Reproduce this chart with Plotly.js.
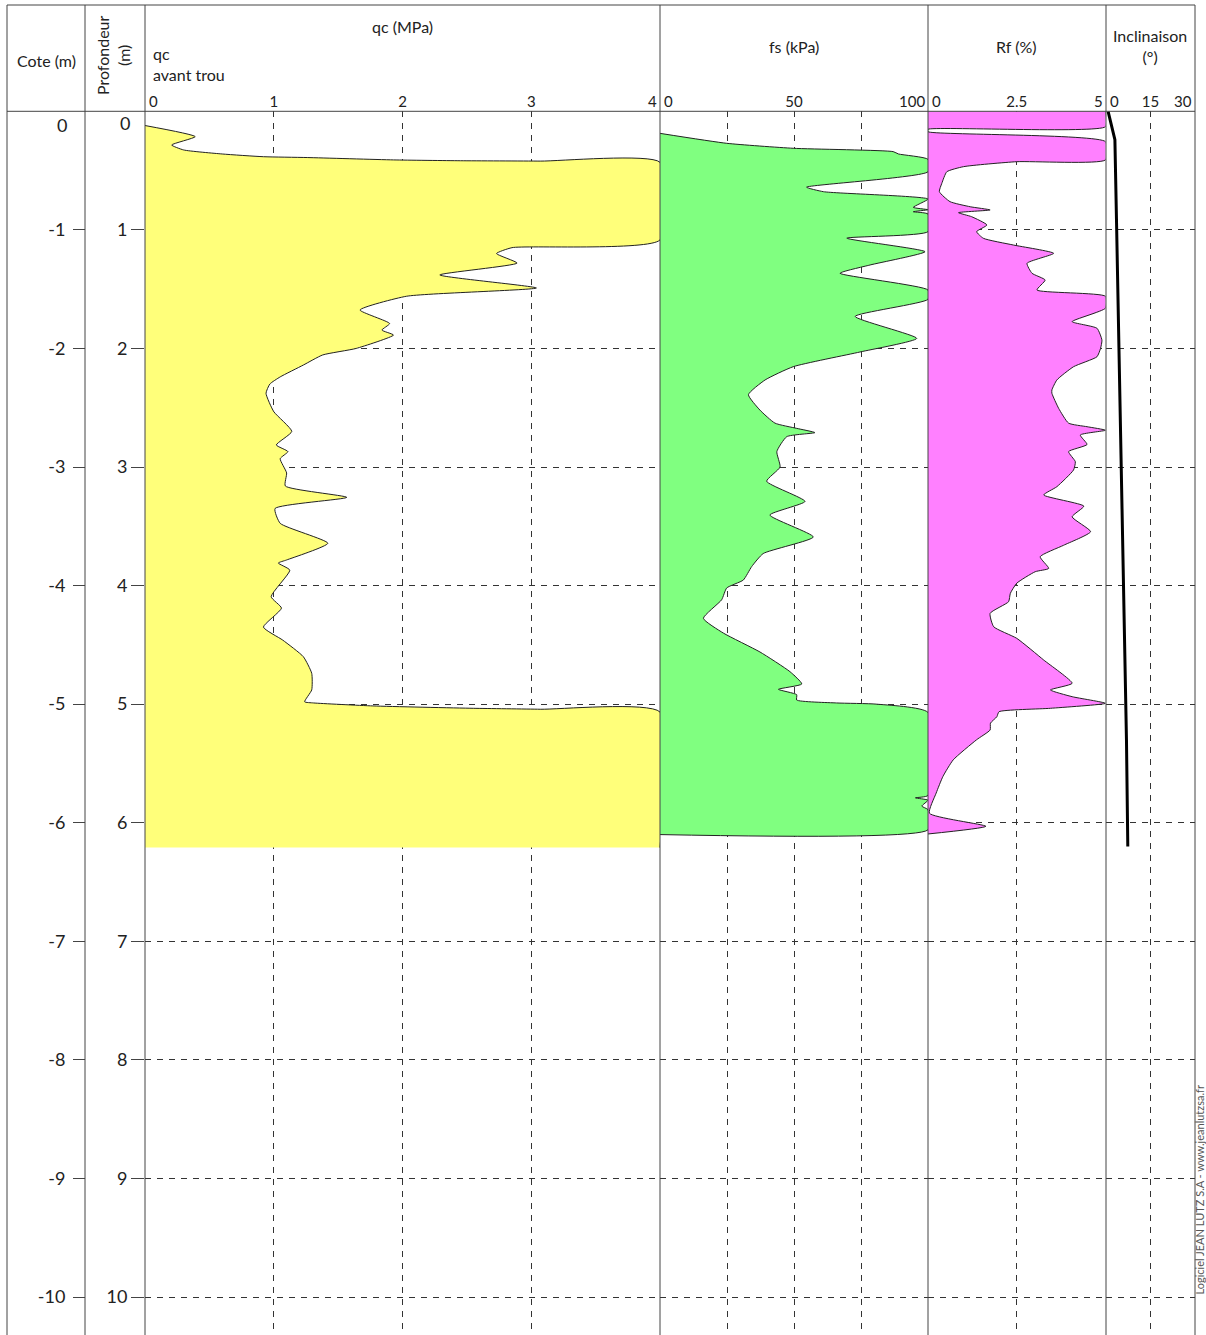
<!DOCTYPE html>
<html><head><meta charset="utf-8">
<script src="https://cdn.plot.ly/plotly-3.0.1.min.js"></script>
<style>html,body{margin:0;padding:0;background:#fff}#chart{width:1206px;height:1335px}</style>
</head><body><div id="chart"></div>
<script>
// ---- data (depth in m) ----
const qcDepth = [0.12,0.214,0.284,0.326,0.36,0.383,0.39,0.41,0.417,0.42,0.43,1.085,1.15,1.2,1.28,1.38,1.49,1.56,1.676,1.79,1.845,1.887,2.0,2.055,2.14,2.24,2.30,2.378,2.533,2.70,2.814,2.87,2.93,3.05,3.16,3.256,3.35,3.475,3.643,3.784,3.81,3.87,4.094,4.19,4.35,4.46,4.6,4.74,4.88,4.98,4.99,5.015,5.035,5.043,5.066,6.21];
const qcValue = [0,0.39,0.207,0.30,0.6,0.92,1.26,1.93,2.45,3.07,4.0,4.0,2.85,2.73,2.89,2.29,3.04,2.03,1.67,1.90,1.84,1.93,1.64,1.38,1.23,1.05,0.97,0.94,1.0,1.14,1.02,1.11,1.05,1.10,1.09,1.567,1.01,1.05,1.42,1.10,1.035,1.125,0.98,1.06,0.92,1.07,1.23,1.295,1.295,1.24,1.31,1.77,2.55,3.07,4.0,4.0];

const fsDepth = [0.186,0.27,0.312,0.34,0.36,0.405,0.51,0.64,0.678,0.74,0.81,0.83,0.847,0.866,1.015,1.07,1.184,1.296,1.366,1.507,1.586,1.73,1.915,2.03,2.154,2.266,2.39,2.52,2.63,2.674,2.71,2.744,2.87,3.0,3.12,3.29,3.405,3.59,3.73,3.84,3.953,4.02,4.12,4.276,4.40,4.56,4.726,4.83,4.875,4.92,4.965,4.99,5.0,5.07,5.77,5.79,5.81,5.86,5.89,6.06,6.10];
const fsValue = [0,24.9,49.7,87,89,100,100,54.7,61,100,94.5,100,94.5,100,100,69.7,98.9,78.4,67.2,100,100,72.8,95.8,74.6,49.7,39.2,33,37.3,42.9,51,57.8,47.3,43.6,44.8,39.8,54.1,41,57.2,38.5,34.2,31.1,24.9,23,16.2,23.6,37.3,48.5,52.9,44.2,51,51,65.9,80.8,100,100,95.3,100,97.7,100,100,0];

const rfDepth = [0,0.13,0.152,0.172,0.256,0.41,0.425,0.467,0.51,0.607,0.678,0.762,0.805,0.832,0.855,0.889,0.959,1.015,1.071,1.128,1.198,1.282,1.366,1.423,1.507,1.56,1.66,1.774,1.83,1.93,2.0,2.07,2.154,2.266,2.35,2.378,2.505,2.63,2.66,2.69,2.73,2.81,2.87,2.955,3.025,3.166,3.236,3.33,3.42,3.545,3.66,3.757,3.855,3.883,3.98,4.065,4.136,4.234,4.347,4.445,4.628,4.824,4.88,4.937,4.993,5.035,5.064,5.106,5.16,5.218,5.30,5.47,5.61,5.75,5.92,6.03,6.095];
const rfValue = [5,5,0,0,5,5,2.5,1.0,0.53,0.39,0.32,0.62,1.19,1.75,0.86,1.23,1.66,1.37,1.56,2.41,3.54,2.79,2.93,3.3,3.07,5,5,4.06,4.76,4.9,4.86,4.76,4.1,3.63,3.49,3.49,3.68,3.96,4.48,5.0,4.29,4.48,3.96,4.15,4.1,3.63,3.26,4.39,4.06,4.58,3.82,3.16,3.4,3.02,2.5,2.32,2.27,1.75,1.85,2.5,3.26,4.06,3.45,4.06,5.0,3.45,2.0,1.94,1.76,1.75,1.37,0.71,0.42,0.23,0.04,1.63,0];

const incDepth = [0,0.07,0.24,1.0,2.33,3.11,3.95,5.3,6.2];
const incValue = [0.7,1.35,3.0,3.6,4.7,5.2,5.8,6.9,7.35];

const depthTicks = [1,2,3,4,5,6,7,8,9,10];
const profLabels = ['1','2','3','4','5','6','7','8','9','10'];
const coteLabels = ['-1','-2','-3','-4','-5','-6','-7','-8','-9','-10'];

const qcTicks = [1,2,3], qcTickText = ['1','2','3'];
const fsTicks = [25,50,75], fsTickText = ['','50',''];
const rfTicks = [2.5], rfTickText = ['2.5'];
const incTicks = [15], incTickText = ['15'];

// ---- layout helpers ----
const W = 1206, H = 1335;
const px = v => v / W;
const py = v => 1 - v / H;
const FONT = 'Lato, "Open Sans", sans-serif';
const TXT = '#222';
const GRID = '#333';
const DASH = '6px,6px';
const yTop = 111.3;
const SM = 0.5;

function xax(l, r, range, tv, tt) {
  return {
    domain: [px(l), px(r)], range: range, anchor: 'y', side: 'top',
    tickvals: tv, ticktext: tt, ticks: '', showline: false, zeroline: false,
    showgrid: true, gridcolor: GRID, gridwidth: 1, griddash: DASH,
    tickfont: {family: FONT, size: 15, color: TXT}, fixedrange: true
  };
}

const traces = [
  {x: qcValue, y: qcDepth, xaxis: 'x', yaxis: 'y', mode: 'lines', fill: 'tozerox',
   fillcolor: '#FFFF7A', line: {color: '#222', width: 1, shape: 'spline', smoothing: SM}, hoverinfo: 'skip'},
  {x: fsValue, y: fsDepth, xaxis: 'x2', yaxis: 'y', mode: 'lines', fill: 'tozerox',
   fillcolor: '#80FF80', line: {color: '#222', width: 1, shape: 'spline', smoothing: SM}, hoverinfo: 'skip'},
  {x: rfValue, y: rfDepth, xaxis: 'x3', yaxis: 'y', mode: 'lines', fill: 'tozerox',
   fillcolor: '#FF80FF', line: {color: '#222', width: 1, shape: 'spline', smoothing: SM}, hoverinfo: 'skip'},
  {x: incValue, y: incDepth, xaxis: 'x4', yaxis: 'y', mode: 'lines',
   line: {color: '#000', width: 3}, hoverinfo: 'skip'},
  // invisible trace to activate the Cote axis
  {x: [0], y: [0], xaxis: 'x', yaxis: 'y2', mode: 'markers', marker: {opacity: 0}, hoverinfo: 'skip', showlegend: false}
];

const lineCol = '#444';
function vline(x, y0, y1) {
  return {type: 'line', xref: 'paper', yref: 'paper', x0: px(x), x1: px(x), y0: py(y0), y1: py(y1),
          line: {color: lineCol, width: 1}};
}
function hline(y, x0, x1) {
  return {type: 'line', xref: 'paper', yref: 'paper', x0: px(x0), x1: px(x1), y0: py(y), y1: py(y),
          line: {color: lineCol, width: 1}};
}
const shapes = [
  hline(5, 7, 1195), hline(yTop, 7, 1195),
  vline(7, 5, H), vline(85, 5, H), vline(145, 5, H), vline(660, 5, H),
  vline(928, 5, H), vline(1106, 5, H), vline(1195, 5, H)
];

function ann(text, x, y, opts) {
  return Object.assign({text: text, x: px(x), y: py(y), xref: 'paper', yref: 'paper', showarrow: false,
    font: {family: FONT, size: 16, color: TXT}, xanchor: 'center', yanchor: 'middle'}, opts || {});
}
function edge(text, axis, val, anchor, shift) {
  return {text: text, x: val, xref: axis, y: py(101), yref: 'paper', showarrow: false,
    xanchor: anchor, xshift: shift, yanchor: 'middle', font: {family: FONT, size: 15, color: TXT}};
}
const annotations = [
  ann('Cote (m)', 46, 60),
  ann('Profondeur<br>(m)', 113, 55, {textangle: -90}),
  ann('qc (MPa)', 402, 27),
  ann('qc<br>avant trou', 151, 64, {xanchor: 'left', align: 'left'}),
  ann('fs (kPa)', 794, 47),
  ann('Rf (%)', 1016, 47),
  ann('Inclinaison<br>(°)', 1150, 46),
  edge('0', 'x', 0, 'left', 2), edge('4', 'x', 4, 'right', -1),
  edge('0', 'x2', 0, 'left', 2), edge('100', 'x2', 100, 'right', -1),
  edge('0', 'x3', 0, 'left', 2), edge('5', 'x3', 5, 'right', -1),
  edge('0', 'x4', 0, 'left', 2), edge('30', 'x4', 30, 'right', -1),
  ann('0', 62, 125, {font: {family: FONT, size: 18, color: TXT}}),
  ann('0', 125, 123, {font: {family: FONT, size: 18, color: TXT}}),
  ann('Logiciel JEAN LUTZ S.A - www.jeanlutzsa.fr', 1206, 1190, {textangle: -90, xanchor: 'right',
     borderpad: 0, font: {family: FONT, size: 11, color: '#555'}})
];

const layout = {
  width: W, height: H, margin: {l: 0, r: 0, t: 0, b: 0},
  paper_bgcolor: '#fff', plot_bgcolor: '#fff', showlegend: false,
  xaxis: xax(145, 660, [0, 4], qcTicks, qcTickText),
  xaxis2: xax(660, 928, [0, 100], fsTicks, fsTickText),
  xaxis3: xax(928, 1105.5, [0, 5], rfTicks, rfTickText),
  xaxis4: xax(1106, 1195, [0, 30], incTicks, incTickText),
  yaxis: {
    domain: [0, py(yTop)], range: [(H - yTop) / 118.57, 0], anchor: 'x', side: 'left',
    tickvals: depthTicks, ticktext: profLabels, ticks: 'outside', ticklen: 13, tickcolor: lineCol,
    ticklabelstandoff: 0,
    showline: false, zeroline: false, showgrid: true, gridcolor: GRID, griddash: DASH, gridwidth: 1,
    tickfont: {family: FONT, size: 18, color: TXT}, fixedrange: true
  },
  yaxis2: {
    overlaying: 'y', anchor: 'free', position: px(85), side: 'left',
    domain: [0, py(yTop)], range: [(H - yTop) / 118.57, 0],
    tickvals: depthTicks, ticktext: coteLabels, ticks: 'outside', ticklen: 12, tickcolor: lineCol,
    ticklabelstandoff: 4,
    showline: false, zeroline: false, showgrid: false,
    tickfont: {family: FONT, size: 18, color: TXT}, fixedrange: true
  },
  shapes: shapes, annotations: annotations
};

Plotly.newPlot('chart', traces, layout, {staticPlot: true, displayModeBar: false});
</script></body></html>
